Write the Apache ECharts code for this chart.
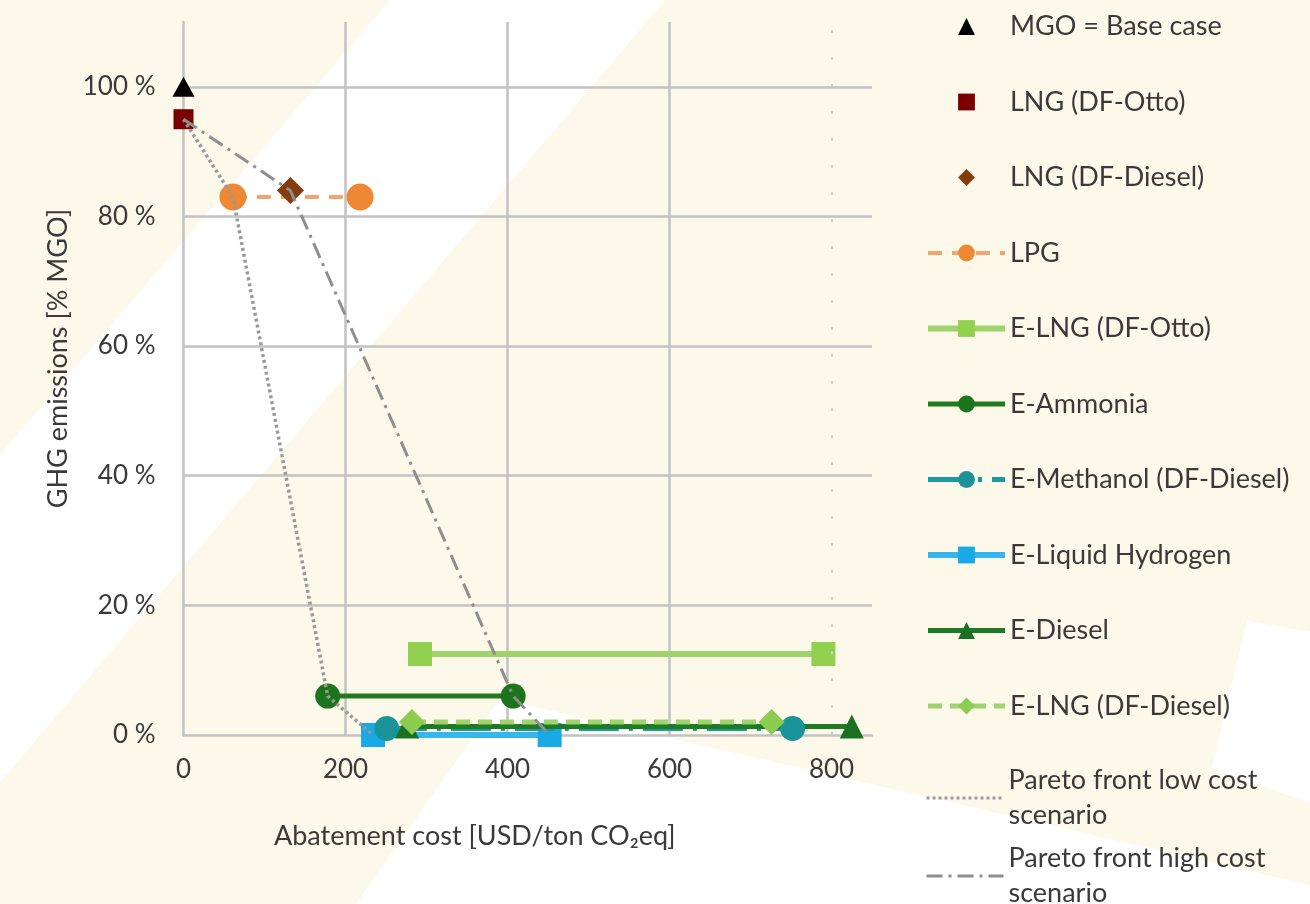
<!DOCTYPE html>
<html>
<head>
<meta charset="utf-8">
<script src="https://cdn.jsdelivr.net/npm/echarts@6/dist/echarts.min.js"></script>
<style>
  html, body { margin: 0; padding: 0; background: #fdf9ea; }
  #chart { width: 1310px; height: 904px; }
</style>
</head>
<body>
<div id="chart"></div>
<script>
// Abatement cost [USD/ton CO2eq] vs GHG emissions [% of MGO]
const xTicks = [0, 200, 400, 600, 800];
const yTicks = [0, 20, 40, 60, 80, 100];

const mgo        = [[0, 100]];
const lngOtto    = [[0, 95]];
const lngDiesel  = [[132, 84]];
const lpg        = [[61, 83], [218, 83]];
const eLngOtto   = [[292, 12.5], [790, 12.5]];
const eAmmonia   = [[178, 6], [407, 6]];
const eMethanol  = [[251, 1], [752, 1]];
const eLH2       = [[234, 0], [452, 0]];
const eDiesel    = [[276, 1.3], [825, 1.3]];
const eLngDiesel = [[282, 2], [726, 2]];
const paretoLow  = [[0, 95], [61, 83], [178, 6], [234, 0]];
const paretoHigh = [[0, 95], [132, 84], [407, 6], [452, 0]];

const FONT = 'Lato, "Open Sans", sans-serif';
const GRID_COLOR = '#c2c2c2';
const TEXT_COLOR = '#3a3a3a';

const chart = echarts.init(document.getElementById('chart'), null, { renderer: 'canvas' });

function pointSeries(name, data, symbol, size, color, z) {
  return {
    name, type: 'line', data, symbol, symbolSize: size, z: z || 3,
    itemStyle: { color },
    lineStyle: { width: 0, opacity: 0 }
  };
}
function rangeSeries(name, data, symbol, size, color, lineColor, width, type, z) {
  return {
    name, type: 'line', data, symbol, symbolSize: size, z: z || 3,
    itemStyle: { color },
    lineStyle: { color: lineColor, width, type: type || 'solid' }
  };
}

const names = {
  mgo: 'MGO = Base case',
  lngOtto: 'LNG (DF-Otto)',
  lngDiesel: 'LNG (DF-Diesel)',
  lpg: 'LPG',
  eLngOtto: 'E-LNG (DF-Otto)',
  eAmmonia: 'E-Ammonia',
  eMethanol: 'E-Methanol (DF-Diesel)',
  eLH2: 'E-Liquid Hydrogen',
  eDiesel: 'E-Diesel',
  eLngDiesel: 'E-LNG (DF-Diesel)',
  low: 'Pareto front low cost scenario',
  high: 'Pareto front high cost scenario'
};

const legendText = { color: TEXT_COLOR, fontSize: 27, fontFamily: FONT, lineHeight: 35 };

const option = {
  animation: false,
  backgroundColor: '#fdf9ea',
  graphic: {
    elements: [
      { type: 'polygon', z: -10, silent: true,
        shape: { points: [[390, 0], [665, 0], [0, 782], [0, 455]] },
        style: { fill: '#ffffff' } },
      { type: 'polygon', z: -10, silent: true,
        shape: { points: [[500, 699], [1310, 885], [1310, 904], [356, 904]] },
        style: { fill: '#ffffff' } },
      { type: 'polygon', z: -10, silent: true,
        shape: { points: [[1247, 621], [1310, 632], [1310, 803], [1212, 768]] },
        style: { fill: '#ffffff' } }
    ]
  },
  grid: { left: 183.5, right: 438, top: 22, bottom: 169, containLabel: false, outerBoundsMode: 'none' },
  xAxis: {
    type: 'value', min: 0, max: 850, interval: 200,
    name: 'Abatement cost [USD/ton CO₂eq]',
    nameLocation: 'middle', nameGap: 88,
    nameTextStyle: { color: TEXT_COLOR, fontSize: 27, fontFamily: FONT, padding: [0, 106, 0, 0] },
    axisLine: { show: true, onZero: false, lineStyle: { color: GRID_COLOR, width: 2.5 } },
    axisTick: { show: false },
    axisLabel: {
      color: TEXT_COLOR, fontSize: 26, fontFamily: FONT, margin: 22, showMaxLabel: false,
      formatter: v => (xTicks.indexOf(v) >= 0 ? String(v) : '')
    },
    splitLine: {
      show: true, showMinLine: false, showMaxLine: false,
      lineStyle: { color: [GRID_COLOR, GRID_COLOR, GRID_COLOR, 'rgba(0,0,0,0)'], width: 2.5 }
    }
  },
  yAxis: {
    type: 'value', min: 0, max: 110, interval: 20,
    name: 'GHG emissions [% MGO]',
    nameLocation: 'middle', nameGap: 110,
    nameTextStyle: { color: TEXT_COLOR, fontSize: 27, fontFamily: FONT, padding: [0, 0, 0, 40] },
    axisLine: { show: true, onZero: false, lineStyle: { color: GRID_COLOR, width: 2.5 } },
    axisTick: { show: false },
    axisLabel: {
      color: TEXT_COLOR, fontSize: 26, fontFamily: FONT, margin: 28, showMaxLabel: false,
      formatter: v => (yTicks.indexOf(v) >= 0 ? v + ' %' : '')
    },
    splitLine: {
      show: true, showMinLine: false, showMaxLine: false,
      lineStyle: { color: GRID_COLOR, width: 2.5 }
    }
  },
  legend: [
    {
      orient: 'vertical', left: 920, top: 4, itemWidth: 77, itemHeight: 21, itemGap: 40.5,
      selectedMode: false, textStyle: legendText,
      data: [
        { name: names.mgo },
        { name: names.lngOtto },
        { name: names.lngDiesel },
        { name: names.lpg, lineStyle: { width: 4 } },
        { name: names.eLngOtto, lineStyle: { width: 6 } },
        { name: names.eAmmonia, lineStyle: { width: 5 } },
        { name: names.eMethanol, lineStyle: { width: 5 } },
        { name: names.eLH2, lineStyle: { width: 6 } },
        { name: names.eDiesel, lineStyle: { width: 5 } },
        { name: names.eLngDiesel, lineStyle: { width: 5 } }
      ]
    },
    {
      orient: 'vertical', left: 920, top: 740.5, itemWidth: 77, itemHeight: 21,
      selectedMode: false,
      textStyle: Object.assign({}, legendText, { padding: [35, 0, 0, 0] }),
      formatter: n => n.replace(' scenario', '\nscenario'),
      data: [{ name: names.low, itemStyle: { opacity: 0 }, lineStyle: { width: 3 } }]
    },
    {
      orient: 'vertical', left: 920, top: 818.5, itemWidth: 77, itemHeight: 21,
      selectedMode: false,
      textStyle: Object.assign({}, legendText, { padding: [35, 0, 0, 0] }),
      formatter: n => n.replace(' scenario', '\nscenario'),
      data: [{ name: names.high, itemStyle: { opacity: 0 }, lineStyle: { width: 3 } }]
    }
  ],
  series: [
    pointSeries(names.mgo, mgo, 'triangle', [22, 20], '#000000'),
    pointSeries(names.lngOtto, lngOtto, 'rect', 20, '#7a0000'),
    pointSeries(names.lngDiesel, lngDiesel, 'diamond', 27, '#843c0c'),
    rangeSeries(names.lpg, lpg, 'circle', 27, '#ee8835', '#f3a56e', 4, [14, 10]),
    rangeSeries(names.eLngOtto, eLngOtto, 'rect', 24, '#92d050', '#9fd46c', 6),
    rangeSeries(names.eAmmonia, eAmmonia, 'circle', 25, '#1c741c', '#22791f', 5),
    rangeSeries(names.eMethanol, eMethanol, 'circle', 25, '#1a9499', '#1d9aa0', 5, [40, 10, 4, 10], 5),
    rangeSeries(names.eLH2, eLH2, 'rect', 24, '#18a9e6', '#35b6ec', 6, 'solid', 4),
    rangeSeries(names.eDiesel, eDiesel, 'triangle', 24, '#1a7020', '#1f7a24', 5, 'solid', 5),
    rangeSeries(names.eLngDiesel, eLngDiesel, 'diamond', 26, '#8ccc50', '#9fd46c', 5, [14, 8], 6),
    {
      name: names.low, type: 'line', data: paretoLow, symbol: 'none', z: 7,
      lineStyle: { color: '#999999', width: 3.5, type: [3, 3] },
      markLine: {
        silent: true, symbol: 'none', label: { show: false },
        lineStyle: { color: '#cfcfcf', width: 2, type: [3, 24] },
        data: [{ xAxis: xTicks[4] }]
      }
    },
    {
      name: names.high, type: 'line', data: paretoHigh, symbol: 'none', z: 7,
      lineStyle: { color: '#8e8e8e', width: 3, type: [16, 6, 3, 6] }
    }
  ]
};

chart.setOption(option);
</script>
</body>
</html>
